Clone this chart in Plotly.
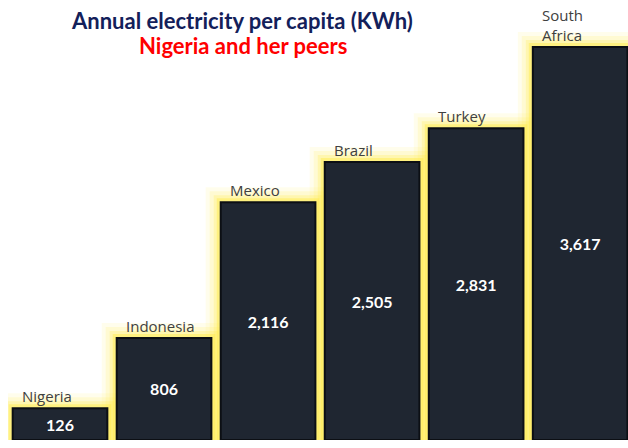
import plotly.graph_objects as go

countries = ["Nigeria", "Indonesia", "Mexico", "Brazil", "Turkey", "South Africa"]
label_text = ["Nigeria", "Indonesia", "Mexico", "Brazil", "Turkey", "South<br>Africa"]
kwh = [126, 806, 2116, 2505, 2831, 3617]
value_labels = ["126", "806", "2,116", "2,505", "2,831", "3,617"]

BASE = -180
BAR_W = 0.91
heights = [v - BASE for v in kwh]

fig = go.Figure()

# yellow glow layers behind bars
for w, a in [(30, 0.10), (22, 0.15), (14, 0.25), (8, 0.45)]:
    fig.add_trace(go.Bar(
        x=countries, y=heights, base=BASE, width=BAR_W,
        marker=dict(color="rgba(0,0,0,0)", line=dict(color=f"rgba(255,236,70,{a})", width=w)),
        hoverinfo="skip", showlegend=False,
    ))

fig.add_trace(go.Bar(
    x=countries, y=heights, base=BASE, width=BAR_W,
    marker=dict(color="#1f2631", line=dict(color="#0c0f14", width=2)),
    text=value_labels, textposition="inside", insidetextanchor="middle",
    textangle=0, constraintext="none",
    textfont=dict(family="Lato", size=16, color="white", weight="bold"),
    showlegend=False,
))

for c, v, t in zip(countries, kwh, label_text):
    fig.add_annotation(
        x=c, y=v, text=t, showarrow=False, xanchor="left", yanchor="bottom",
        xshift=-40, yshift=0, align="left",
        font=dict(family="Open Sans", size=15, color="#404040"),
    )

fig.add_annotation(
    xref="paper", yref="paper", x=234 / 620, y=1, yshift=-5,
    text="<b>Annual electricity per capita (KWh)</b>", showarrow=False,
    xanchor="center", yanchor="top",
    font=dict(family="Lato", size=22, color="#13205a"),
)
fig.add_annotation(
    xref="paper", yref="paper", x=235 / 620, y=1, yshift=-30,
    text="<b>Nigeria and her peers</b>", showarrow=False,
    xanchor="center", yanchor="top",
    font=dict(family="Lato", size=22, color="#ff0000"),
)

fig.update_layout(
    width=628, height=448,
    margin=dict(l=8, r=0, t=0, b=8),
    barmode="overlay",
    plot_bgcolor="white", paper_bgcolor="white",
    xaxis=dict(visible=False, range=[-0.5, 5.46]),
    yaxis=dict(visible=False, range=[BASE, 4070]),
)

fig.write_html("out.html")
